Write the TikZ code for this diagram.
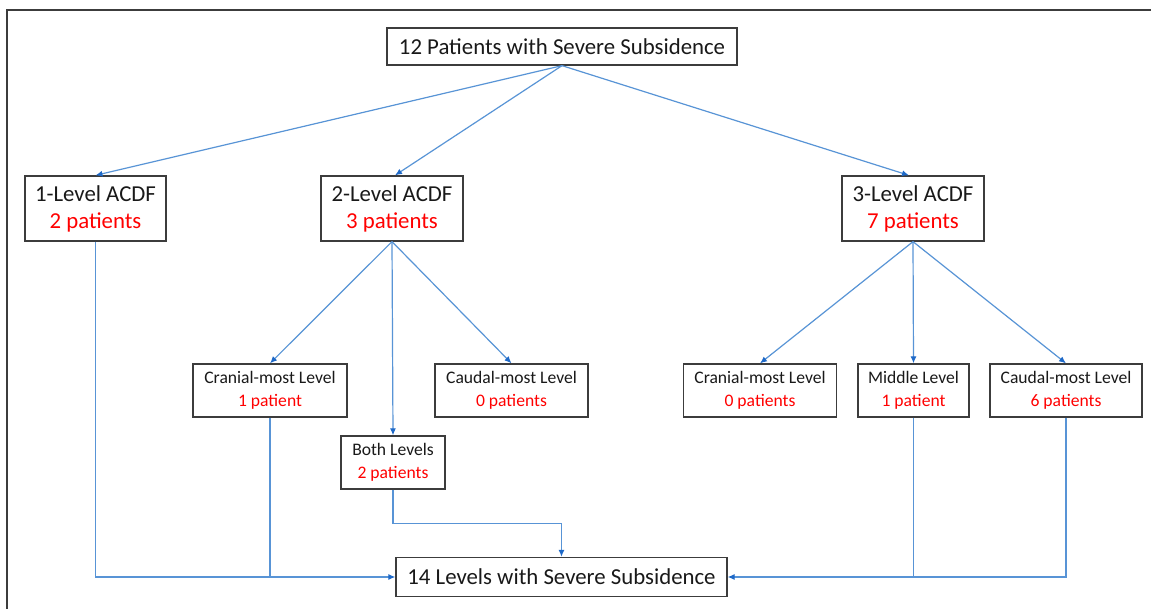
\documentclass[tikz,border=0pt]{standalone}
\usepackage{fontspec}
\setmainfont{Carlito}
\usetikzlibrary{arrows.meta,calc}
\definecolor{lineblue}{RGB}{88,148,214}
\definecolor{tipblue}{RGB}{30,105,200}
\definecolor{boxgray}{RGB}{60,60,60}
\definecolor{txt}{RGB}{25,25,25}
\tikzset{
  box/.style={draw=boxgray, line width=1.3pt, inner sep=0pt, align=center, text=txt},
  bigbox/.style={box, font=\fontsize{22.8}{27}\selectfont},
  smallbox/.style={box, font=\fontsize{17.6}{23}\selectfont},
  conn/.style={draw=lineblue, line width=1.2pt},
  arr/.style={conn, -{Latex[length=7pt,width=6pt,color=tipblue]}},
}
\newcommand{\red}[1]{\textcolor{red}{#1}}
\begin{document}
\begin{tikzpicture}[x=1pt,y=-1pt]
\useasboundingbox (0,0) rectangle (1151,609);
\fill[white] (0,0) rectangle (1151,609);
\draw[boxgray, line width=1.6pt] (7,620) -- (7,10) -- (1165,10);

\node[bigbox, minimum width=350pt, minimum height=37pt] (top) at (562,46.5) {12 Patients with Severe Subsidence};
\node[bigbox, minimum width=141pt, minimum height=65pt] (l1) at (95.5,208.5) {1-Level ACDF\\\red{2 patients}};
\node[bigbox, minimum width=142pt, minimum height=65pt] (l2) at (392,208.5) {2-Level ACDF\\\red{3 patients}};
\node[bigbox, minimum width=142pt, minimum height=65pt] (l3) at (913,208.5) {3-Level ACDF\\\red{7 patients}};

\node[smallbox, minimum width=154pt, minimum height=53pt] (c2) at (270,390.5) {Cranial-most Level\\\red{1 patient}};
\node[smallbox, minimum width=153pt, minimum height=53pt] (d2) at (511.5,390.5) {Caudal-most Level\\\red{0 patients}};
\node[smallbox, minimum width=104pt, minimum height=53pt] (both) at (393,462.5) {Both Levels\\\red{2 patients}};
\node[smallbox, minimum width=153pt, minimum height=53pt] (c3) at (760,390.5) {Cranial-most Level\\\red{0 patients}};
\node[smallbox, minimum width=111pt, minimum height=53pt] (m3) at (913.5,390.5) {Middle Level\\\red{1 patient}};
\node[smallbox, minimum width=152pt, minimum height=53pt] (d3) at (1066,390.5) {Caudal-most Level\\\red{6 patients}};

\node[bigbox, minimum width=331pt, minimum height=39pt] (bot) at (561.5,577) {14 Levels with Severe Subsidence};

\draw[arr] (top.south) -- (l1.north);
\draw[arr] (top.south) -- ([xshift=3pt]l2.north);
\draw[arr] (top.south) -- ([xshift=-4pt]l3.north);

\draw[arr] (l2.south) -- (c2.north);
\draw[arr] (l2.south) -- (both.north);
\draw[arr] (l2.south) -- (d2.north);

\draw[arr] (l3.south) -- (c3.north);
\draw[arr] (l3.south) -- (m3.north);
\draw[arr] (l3.south) -- (d3.north);

\draw[arr] (l1.south) |- (bot.west);
\draw[conn] (c2.south) -- (c2.south |- bot.west);
\draw[arr] (both.south) -- ++(0,34) -| (bot.north);
\draw[arr] (d3.south) |- (bot.east);
\draw[conn] (m3.south) -- (m3.south |- bot.east);
\end{tikzpicture}
\end{document}
